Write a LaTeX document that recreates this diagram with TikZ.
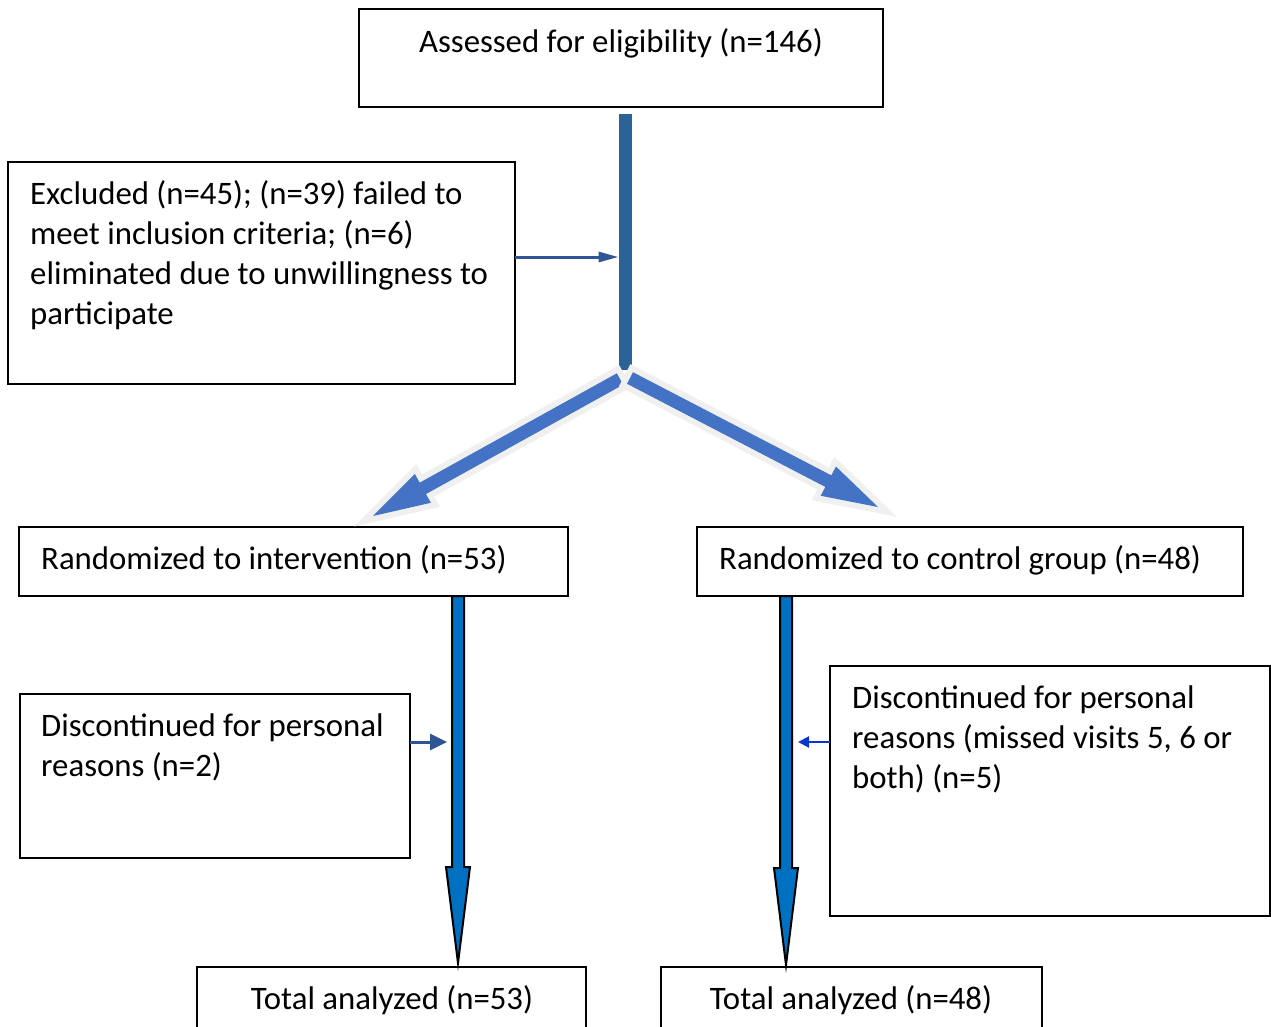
\documentclass[tikz,border=0pt]{standalone}
\usepackage{fontspec}
\setmainfont{Carlito}
\usetikzlibrary{calc,arrows.meta}
\definecolor{barblue}{HTML}{2A6496}
\definecolor{diagblue}{HTML}{4472C4}
\definecolor{halo}{HTML}{F0F0F0}
\definecolor{blockblue}{HTML}{0070C0}
\definecolor{smallblue}{HTML}{2F5597}
\definecolor{brightblue}{HTML}{0A36D0}
% #1 start, #2 tip, #3 half shaft width, #4 half head width, #5 head length, #6 style
\newcommand\blockarr[6]{%
  \coordinate (bab) at ($(#2)!#5!(#1)$);
  \path[#6] ($(#1)!#3!-90:(#2)$) -- ($(bab)!#3!-90:(#2)$) -- ($(bab)!#4!-90:(#2)$)
    -- (#2) -- ($(bab)!#4!90:(#2)$) -- ($(bab)!#3!90:(#2)$) -- ($(#1)!#3!90:(#2)$) -- cycle;
}
\begin{document}
\begin{tikzpicture}[x=1pt,y=-1pt,
  box/.style={draw=black, line width=2pt, inner sep=0pt, outer sep=0pt, anchor=north west},
  txt/.style={font=\fontsize{32.8}{40}\selectfont, inner sep=0pt, align=left, anchor=base west},
  diagarrow/.style={fill=diagblue, preaction={draw=halo, line width=12pt, line join=miter}},
  vertarrow/.style={fill=blockblue, draw=black, line width=2pt, line join=miter},
  smallarr/.style={line width=3pt, draw=smallblue, -{Triangle[length=20pt,width=10pt]}}
]
\clip (0,0) rectangle (1271,1027);
\fill[white] (0,0) rectangle (1271,1027);

% boxes
\node[box, minimum width=524pt, minimum height=98pt] (top) at (359,9) {};
\node[box, minimum width=507pt, minimum height=222pt] (excl) at (8,162) {};
\node[box, minimum width=549pt, minimum height=69pt] (randint) at (19,527) {};
\node[box, minimum width=546pt, minimum height=69pt] (randctrl) at (697,527) {};
\node[box, minimum width=390pt, minimum height=164pt] (discL) at (20,694) {};
\node[box, minimum width=440pt, minimum height=250pt] (discR) at (830,666) {};
\node[box, minimum width=389pt, minimum height=90pt] (totL) at (197,967) {};
\node[box, minimum width=381pt, minimum height=90pt] (totR) at (661,967) {};

% texts (multi-line nodes: base = last line)
\node[txt, anchor=base] (topt) at (621,52.5) {Assessed for eligibility (n=146)};
\node[txt] (exclt) at (30,324) {Excluded (n=45); (n=39) failed to\\meet inclusion criteria; (n=6)\\eliminated due to unwillingness to\\participate};
\node[txt] (randintt) at (41,569) {Randomized to intervention (n=53)};
\node[txt] (randctrlt) at (719,569) {Randomized to control group (n=48)};
\node[txt] (discLt) at (41,776) {Discontinued for personal\\reasons (n=2)};
\node[txt] (discRt) at (852,788) {Discontinued for personal\\reasons (missed visits 5, 6 or\\both) (n=5)};
\node[txt, anchor=base] (totLt) at (392,1009) {Total analyzed (n=53)};
\node[txt, anchor=base] (totRt) at (851,1009) {Total analyzed (n=48)};

% main vertical bar
\coordinate (bartop) at ([xshift=4pt,yshift=-7pt]top.south);
\coordinate (split) at ([yshift=-256pt]bartop);
\draw[barblue, line width=13pt] (bartop) -- (split);

% diagonal arrows
\coordinate (dLs) at ([xshift=-5pt,yshift=-9pt]split);
\coordinate (dLt) at ([xshift=354pt,yshift=11pt]randint.north west);
\coordinate (dRs) at ([xshift=5pt,yshift=-8pt]split);
\coordinate (dRt) at ([xshift=-365pt,yshift=20pt]randctrl.north east);
\blockarr{dLs}{dLt}{6.5pt}{16.5pt}{57pt}{diagarrow}
\blockarr{dRs}{dRt}{6.5pt}{16.5pt}{56pt}{diagarrow}

% vertical block arrows
\coordinate (vLs) at ([xshift=-110pt]randint.south east);
\coordinate (vLt) at ([xshift=261pt,yshift=4pt]totL.north west);
\coordinate (vRs) at ([xshift=89pt]randctrl.south west);
\coordinate (vRt) at ([xshift=125pt,yshift=2pt]totR.north west);
\blockarr{vLs}{vLt}{6pt}{12pt}{96pt}{vertarrow}
\blockarr{vRs}{vRt}{6pt}{12pt}{97pt}{vertarrow}

% small arrows
\coordinate (ea) at ([yshift=16pt]excl.east);
\draw[smallarr, shorten >=6.5pt] (ea) -- (ea -| bartop);
\coordinate (la) at ([yshift=34pt]discL.east);
\draw[smallarr, -{Triangle[length=17pt,width=16pt]}, shorten >=11pt] (la) -- (la -| vLs);
\coordinate (ra) at ([yshift=49pt]discR.west);
\draw[line width=2pt, brightblue, -{Triangle[length=11pt,width=11pt]}, shorten >=12pt] (ra) -- (ra -| vRs);
\end{tikzpicture}
\end{document}
